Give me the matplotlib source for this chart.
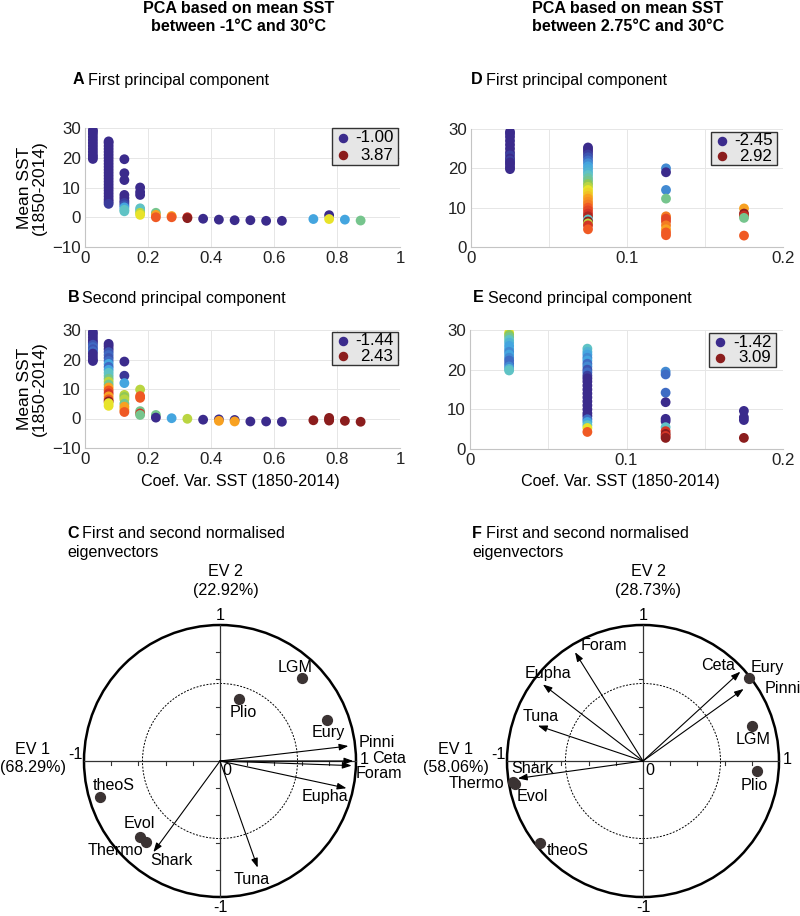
"""PCA panels: mean SST vs coefficient of variation, coloured by PC score,
plus the two normalised-eigenvector circle plots. Writes out.png."""
import matplotlib

matplotlib.use("Agg")
import matplotlib.pyplot as plt
from matplotlib.colors import LinearSegmentedColormap
from matplotlib.patches import Circle, Rectangle
from matplotlib.ticker import MultipleLocator

plt.rcParams["font.family"] = ["Liberation Sans", "DejaVu Sans"]

# ---------------------------------------------------------------- data
# column centres (coef. of variation bins)
COLS_LEFT = [0.025, 0.075, 0.125, 0.175, 0.225, 0.275, 0.325, 0.375, 0.425,
             0.475, 0.525, 0.575, 0.625, 0.725, 0.775, 0.825, 0.875]
COLS_RIGHT = [0.025, 0.075, 0.125, 0.175]

# A: first PC, SST -1..30
A_RANGE = (-1.00, 3.87)
A_Y = [
    [29.3, 28.8, 28, 27, 26, 25, 24, 23, 22, 21, 20.3, 19.6],
    [25.5, 25, 24, 23, 22, 21, 20, 19, 18, 17, 16, 15, 14, 13, 12, 11, 10, 9, 8, 7, 6, 5.2, 4.5],
    [19.5, 14.8, 12.5, 7.5, 6.5, 5.5, 4.8, 4.0, 3.3, 2.5, 2.0],
    [10.0, 8.5, 7.5, 3.0, 2.3, 1.5, 0.8],
    [1.5, 0.8, 0.0],
    [0.4, 0.0],
    [0.0, -0.3],
    [-0.5], [-0.8], [-1.0], [-1.0], [-1.2], [-1.2],
    [-0.6],
    [0.7, -0.6],
    [-0.8],
    [-1.1],
]
A_C = [
    [-1.0] * 12,
    [-1.0] * 22 + [-0.6],
    [-1.0, -1.0, -1.0, -1.0, -1.0, -1.0, -0.5, -0.27, 0.46, 0.95, 0.95],
    [-1.0, -1.0, -1.0, 0.95, 0.95, 1.68, 1.92],
    [1.19, 2.41, 2.90],
    [2.41, 2.90],
    [3.38, 3.87],
    [-1.0], [-1.0], [-1.0], [-1.0], [-1.0], [-1.0],
    [0.46],
    [-1.0, 1.92],
    [0.46],
    [1.19],
]

# B: second PC, SST -1..30
B_RANGE = (-1.44, 2.43)
B_Y = [
    [29.3, 28.5, 27.5, 26.5, 25.8, 25.0, 24.2, 23.5, 22.8, 22.0, 21.0, 20.0, 19.5],
    [25.3, 24.5, 23.5, 22.5, 21.5, 20.5, 19.5, 18.5, 17.5, 16.5, 15.5, 14.5, 13.5,
     12.5, 11.5, 10.5, 9.5, 8.5, 7.5, 6.5, 5.8, 5.2, 4.3],
    [19.3, 14.5, 12.0, 8.0, 7.3, 6.5, 5.0, 4.0, 3.0, 2.2],
    [9.8, 7.6, 7.0, 2.5, 1.7, 1.2],
    [1.2, 0.3],
    [0.1],
    [-0.1],
    [-0.4],
    [-0.3, -0.8],
    [-0.5, -1.0],
    [-1.0], [-1.0], [-1.1],
    [-0.6],
    [0.2, -0.3, -0.7],
    [-0.8],
    [-1.1],
]
B_C = [
    [-1.44, -1.44, -1.44, -1.44, -1.44, -0.86, -0.67, -0.86, -0.67, -1.44, -1.44, -1.44, -1.44],
    [-1.44, -1.44, -1.44, -0.86, -0.67, -0.86, -0.67, -0.28, -0.67, -0.28, 0.11, 0.11, 0.30,
     0.69, 0.30, 1.27, 1.66, 2.04, 1.27, 1.66, 2.43, 0.88, 0.88],
    [-1.44, -1.2, -0.28, 0.69, 0.50, 0.69, 0.30, 1.27, 1.27, 1.66],
    [0.69, 1.66, 1.66, 0.30, 2.04, 0.30],
    [0.30, -1.44],
    [-0.28],
    [0.69],
    [-1.44],
    [-1.44, 1.27],
    [-1.44, 1.27],
    [-1.44], [-1.44], [-1.44],
    [2.43],
    [2.43, 2.43, 2.43],
    [2.43],
    [2.43],
]

# D: first PC, SST 2.75..30
D_RANGE = (-2.45, 2.92)
D_Y = [
    [29.3, 28.8, 28, 27, 26, 25, 24, 23.3, 22.5, 22.0, 21.5, 21.0, 20.3, 19.8],
    [25.3, 24.8, 24.2, 23.5, 22.8, 22.0, 21.3, 20.5, 19.8, 19.0, 18.3, 17.5, 16.8, 16.0,
     15.3, 14.5, 13.8, 13.0, 12.3, 11.5, 10.8, 10.0, 9.3, 8.5, 7.8, 7.0, 6.5, 6.0, 5.5, 4.5],
    [20.0, 19.0, 14.5, 12.3, 7.8, 7.2, 6.5, 5.5, 4.5, 3.7, 3.0],
    [9.8, 8.5, 8.0, 7.4, 2.9],
]
D_C = [
    [-2.45] * 7 + [-1.91, -2.45, -1.91] + [-2.45] * 4,
    [-2.45, -2.45, -2.45, -1.91, -1.64, -1.38, -1.10, -0.84, -0.70, -0.57, -0.30, -0.15, -0.03, 0.24,
     0.50, 0.77, 0.90, 1.04, 1.31, 1.45, 1.58, 1.85, 2.11, 2.38, 2.65, -0.30, 2.92, 0.50, 2.38, 1.85],
    [-1.10, -2.45, -1.10, -0.03, 1.58, 2.11, 2.11, 1.58, 1.31, 1.85, 1.85],
    [1.31, 2.92, 2.50, -0.03, 1.85],
]

# E: second PC, SST 2.75..30
E_RANGE = (-1.42, 3.09)
E_Y = [
    [29.3, 28.8, 28.2, 27.5, 26.8, 26.0, 25.2, 24.5, 23.8, 23.0, 22.3, 21.5, 20.8, 20.2, 19.8],
    [25.3, 24.5, 23.8, 23.0, 22.3, 21.5, 20.8, 20.0, 19.3, 18.5, 17.8, 17, 16, 15, 14, 13,
     12, 11, 10, 9, 8.3, 7.5, 6.8, 6.0, 5.3, 4.3],
    [19.5, 18.8, 14.2, 11.8, 7.6, 7.0, 5.5, 4.5, 3.8, 3.3, 2.8],
    [9.6, 8.0, 7.3, 2.8],
]
E_C = [
    [1.29, 0.84, 0.61, 0.38, 0.16, -0.07, -0.07, -0.29, -0.07, -0.29, -0.52, -0.52, -0.29, 0.16, 0.38],
    [0.38, 0.16, -0.07, -0.29, -0.07, -0.52, -0.29, -0.74, -0.52, -0.95, -1.42, -1.42, -1.42,
     -1.42, -1.42, -1.42, -1.42, -1.42, -1.42, -1.42, -1.42, -0.52, -0.07, 0.38, 1.29, 2.19],
    [-0.29, -0.52, -0.52, -1.42, -1.42, -1.42, 0.38, 2.64, 3.09, 2.64, 3.09],
    [-1.42, -1.42, -1.42, 3.09],
]

# C / F: normalised eigenvectors (arrows) and projected points
C_EV = (68.29, 22.92)
C_ARROW_NAMES = ["Pinni", "Ceta", "Foram", "Eupha", "Tuna", "Shark"]
C_ARROW_X = [0.944, 0.98, 0.968, 0.93, 0.277, -0.49]
C_ARROW_Y = [0.11, 0.0, -0.034, -0.20, -0.784, -0.67]
C_POINT_NAMES = ["LGM", "Plio", "Eury", "theoS", "Evol", "Thermo"]
C_POINT_X = [0.60, 0.142, 0.79, -0.88, -0.588, -0.544]
C_POINT_Y = [0.61, 0.453, 0.30, -0.267, -0.561, -0.598]

F_EV = (58.06, 28.73)
F_ARROW_NAMES = ["Foram", "Eupha", "Tuna", "Ceta", "Pinni", "Shark"]
F_ARROW_X = [-0.50, -0.736, -0.773, 0.716, 0.74, -0.92]
F_ARROW_Y = [0.80, 0.563, 0.26, 0.657, 0.53, -0.128]
F_POINT_NAMES = ["Eury", "LGM", "Plio", "Thermo", "Evol", "theoS"]
F_POINT_X = [0.778, 0.80, 0.84, -0.958, -0.938, -0.76]
F_POINT_Y = [0.607, 0.26, -0.072, -0.153, -0.17, -0.605]

# label placement (x, y, ha) in circle units
C_LABELS = {
    "LGM": (0.55, 0.69, "center"), "Plio": (0.17, 0.36, "center"),
    "Eury": (0.80, 0.21, "center"), "Pinni": (1.017, 0.135, "left"),
    "Ceta": (1.115, 0.02, "left"), "Foram": (1.0, -0.09, "left"),
    "Eupha": (0.77, -0.26, "center"), "Tuna": (0.23, -0.875, "center"),
    "Shark": (-0.355, -0.735, "center"), "Thermo": (-0.77, -0.66, "center"),
    "Evol": (-0.59, -0.46, "center"), "theoS": (-0.78, -0.18, "center"),
}
F_LABELS = {
    "Foram": (-0.29, 0.85, "center"), "Ceta": (0.55, 0.70, "center"),
    "Eury": (0.795, 0.69, "left"), "Pinni": (0.894, 0.53, "left"),
    "LGM": (0.81, 0.16, "center"), "Plio": (0.815, -0.18, "center"),
    "Eupha": (-0.70, 0.64, "center"), "Tuna": (-0.75, 0.33, "center"),
    "Shark": (-0.97, -0.054, "left"), "Thermo": (-1.02, -0.165, "right"),
    "Evol": (-0.93, -0.26, "left"), "theoS": (-0.71, -0.66, "left"),
}

# ---------------------------------------------------------------- style
CMAP = LinearSegmentedColormap.from_list("pcs", [
    "#3b2b8c", "#3b3f9e", "#3f6cc4", "#44a6e0", "#5fc3c5", "#8dc757",
    "#e8e32a", "#f8a221", "#f05a24", "#d43526", "#8b1d1d"])
FS = 11.6       # headings, pca labels
FS_TICK = 12.2  # tick labels, legends
W, H = 800, 916


def box(l, t, r, b):
    return [l / W, 1 - b / H, (r - l) / W, (b - t) / H]


def ftext(fig, x, y, s, **kw):
    kw.setdefault("fontsize", FS)
    fig.text(x / W, 1 - y / H, s, **kw)


def scatter_panel(ax, cols, ys, cs, rng, xmax, xmajor, xminor, ylim, legend_box):
    vmin, vmax = rng
    for x, yl, cl in zip(cols, ys, cs):
        ax.scatter([x] * len(yl), yl, c=cl, cmap=CMAP, vmin=vmin, vmax=vmax,
                   s=50, edgecolors="none", zorder=3)
    ax.set_xlim(0, xmax)
    ax.set_ylim(*ylim)
    ax.xaxis.set_major_locator(MultipleLocator(xmajor))
    ax.xaxis.set_minor_locator(MultipleLocator(xminor))
    ax.yaxis.set_major_locator(MultipleLocator(10))
    ax.grid(True, which="both", color="#e6e6e6", lw=0.7)
    ax.set_axisbelow(True)
    for s in ("top", "right"):
        ax.spines[s].set_visible(False)
    for s in ("left", "bottom"):
        ax.spines[s].set_color("#c4c4c4")
        ax.spines[s].set_linewidth(0.8)
    ax.tick_params(which="both", length=0, labelsize=FS_TICK, colors="#222222", pad=3)
    ax.xaxis.set_major_formatter(plt.FuncFormatter(lambda v, _: f"{v:g}"))

    # legend: colour of min / max score
    x0, y0, x1, y1 = legend_box
    ax.add_patch(Rectangle((x0, y1), x1 - x0, y0 - y1, transform=ax.transAxes,
                           facecolor="#e6e6e6", edgecolor="#333333", lw=1.0,
                           zorder=5, clip_on=False))
    rows = [y0 - 0.27 * (y0 - y1), y0 - 0.73 * (y0 - y1)]
    for ry, v in zip(rows, (vmin, vmax)):
        ax.scatter([x0 + 0.035], [ry], transform=ax.transAxes, s=34,
                   color=CMAP((v - vmin) / (vmax - vmin)), zorder=6, clip_on=False)
        ax.text(x1 - 0.015, ry, f"{v:.2f}", transform=ax.transAxes, ha="right",
                va="center", fontsize=FS_TICK, zorder=6)


def pca_panel(ax, ev, an, ax_, ay, pn, px, py, labels, xlim):
    ax.set_xlim(*xlim)
    ax.set_ylim(-(916 - 761) / 136, (761 - 520) / 136)
    ax.axis("off")
    ax.add_patch(Circle((0, 0), 1, fill=False, lw=1.8, color="black"))
    ax.add_patch(Circle((0, 0), 0.57, fill=False, lw=0.7, color="black",
                        ls=(0, (2, 1.5))))
    ax.plot([-1, 1], [0, 0], color="#333333", lw=0.9)
    ax.plot([0, 0], [-1, 1], color="#333333", lw=0.9)
    for t in (-0.8, -0.6, -0.4, -0.2, 0.2, 0.4, 0.6, 0.8):
        ax.plot([t, t], [0, -0.03], color="#333333", lw=0.8)
        ax.plot([0, -0.03], [t, t], color="#333333", lw=0.8)
    for x, y in zip(ax_, ay):
        ax.annotate("", xy=(x, y), xytext=(0, 0),
                    arrowprops=dict(arrowstyle="-|>,head_length=0.5,head_width=0.18",
                                    color="black", lw=0.8, mutation_scale=11,
                                    shrinkA=0, shrinkB=0))
    ax.scatter(px, py, s=50, color="#3b3333", zorder=4)
    for name in an + pn:
        lx, ly, ha = labels[name]
        ax.text(lx, ly, name, ha=ha, va="center", fontsize=FS)
    ax.text(0, 1.07, "1", ha="center", va="center", fontsize=FS)
    ax.text(0, -1.08, "-1", ha="center", va="center", fontsize=FS)
    ax.text(0.05, -0.07, "0", ha="center", va="center", fontsize=FS)
    ax.text(-1.06, 0.05, "-1", ha="center", va="center", fontsize=FS)
    ax.text(1.06, 0.01, "1", ha="center", va="center", fontsize=FS)
    ax.text(0.04, 1.39, "EV 2", ha="center", va="center", fontsize=FS)
    ax.text(0.04, 1.25, f"({ev[1]:.2f}%)", ha="center", va="center", fontsize=FS)
    ax.text(-1.375, 0.085, "EV 1", ha="center", va="center", fontsize=FS)
    ax.text(-1.375, -0.05, f"({ev[0]:.2f}%)", ha="center", va="center", fontsize=FS)


fig = plt.figure(figsize=(8, 9.16), dpi=100)

axA = fig.add_axes(box(85, 128, 400, 247))
scatter_panel(axA, COLS_LEFT, A_Y, A_C, A_RANGE, 1, 0.2, 0.2, (-10, 30),
              (0.784, 1.0, 0.994, 0.689))
axB = fig.add_axes(box(85, 330, 400, 448))
scatter_panel(axB, COLS_LEFT, B_Y, B_C, B_RANGE, 1, 0.2, 0.2, (-10, 30),
              (0.784, 0.983, 0.994, 0.703))
axD = fig.add_axes(box(471, 129, 783, 247))
scatter_panel(axD, COLS_RIGHT, D_Y, D_C, D_RANGE, 0.2, 0.1, 0.05, (0, 30),
              (0.769, 0.975, 0.981, 0.695))
axE = fig.add_axes(box(470, 330, 783, 449))
scatter_panel(axE, COLS_RIGHT, E_Y, E_C, E_RANGE, 0.2, 0.1, 0.05, (0, 30),
              (0.764, 0.975, 0.978, 0.689))

axC = fig.add_axes(box(0, 520, 400, 916))
pca_panel(axC, C_EV, C_ARROW_NAMES, C_ARROW_X, C_ARROW_Y, C_POINT_NAMES,
          C_POINT_X, C_POINT_Y, C_LABELS, (-220 / 136, 180 / 136))
axF = fig.add_axes(box(400, 520, 800, 916))
pca_panel(axF, F_EV, F_ARROW_NAMES, F_ARROW_X, F_ARROW_Y, F_POINT_NAMES,
          F_POINT_X, F_POINT_Y, F_LABELS, (-243 / 136, 157 / 136))

# titles and panel headings
ftext(fig, 239, 17.5, "PCA based on mean SST\nbetween -1°C and 30°C", ha="center",
      va="center", fontweight="bold", linespacing=1.2)
ftext(fig, 628, 17.5, "PCA based on mean SST\nbetween 2.75°C and 30°C", ha="center",
      va="center", fontweight="bold", linespacing=1.2)
for x, y, letter, txt in [(73, 80, "A", "First principal component"),
                          (471, 80, "D", "First principal component"),
                          (68, 298, "B", "Second principal component"),
                          (473, 298, "E", "Second principal component"),
                          (67, 533, "C", "First and second normalised"),
                          (472, 533, "F", "First and second normalised")]:
    ftext(fig, x, y, letter, fontweight="bold", va="center")
    ftext(fig, x + 14.5, y, txt, va="center")
ftext(fig, 67, 552, "eigenvectors", va="center")
ftext(fig, 472, 552, "eigenvectors", va="center")

for yc in (187.5, 389):
    ftext(fig, 32, yc, "Mean SST\n(1850-2014)", rotation=90, ha="center",
          va="center", multialignment="center", linespacing=1.05, fontsize=12.5)
ftext(fig, 240, 482, "Coef. Var. SST (1850-2014)", ha="center", va="center")
ftext(fig, 620, 482, "Coef. Var. SST (1850-2014)", ha="center", va="center")

fig.savefig("out.png", dpi=100)
